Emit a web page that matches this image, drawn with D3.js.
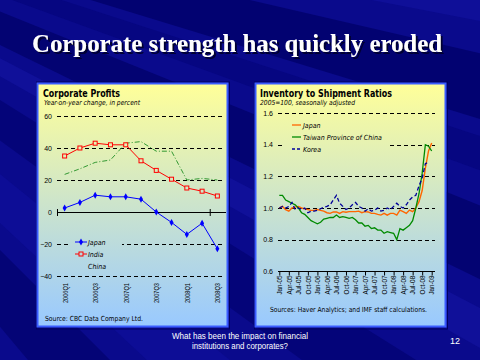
<!DOCTYPE html>
<html><head><meta charset="utf-8">
<script src="https://cdn.jsdelivr.net/npm/d3@7"></script>
<style>html,body{margin:0;padding:0;background:#0a0a8c;} svg{display:block}</style>
</head><body><svg id="c" width="480" height="360"></svg>
<script>
// ---- Left chart data: Corporate Profits ----
const quarters = ["2006Q1","2006Q2","2006Q3","2006Q4","2007Q1","2007Q2","2007Q3","2007Q4","2008Q1","2008Q2","2008Q3"];
const quarterTicks = ["2006Q1","2006Q3","2007Q1","2007Q3","2008Q1","2008Q3"];
const japanProfits = [2.5, 6, 10.5, 9.5, 9.5, 8, 0, -6.5, -14, -7, -23];
const indiaProfits = [35, 40, 43, 42, 42, 32, 26, 20.5, 15, 13, 10];
const chinaProfits = [23.5, 27, 31, 32.5, 43, 44, 38, 38, 20, 21, 20];
const profitTicks = [60, 40, 20, 0, -20, -40];
const profitSeries = ["Japan", "India", "China"];

// ---- Right chart data: Inventory to Shipment Ratios ----
const months = ["Jan-05","Feb-05","Mar-05","Apr-05","May-05","Jun-05","Jul-05","Aug-05","Sep-05","Oct-05","Nov-05","Dec-05",
"Jan-06","Feb-06","Mar-06","Apr-06","May-06","Jun-06","Jul-06","Aug-06","Sep-06","Oct-06","Nov-06","Dec-06",
"Jan-07","Feb-07","Mar-07","Apr-07","May-07","Jun-07","Jul-07","Aug-07","Sep-07","Oct-07","Nov-07","Dec-07",
"Jan-08","Feb-08","Mar-08","Apr-08","May-08","Jun-08","Jul-08","Aug-08","Sep-08","Oct-08","Nov-08","Dec-08","Jan-09"];
const monthTicks = ["Jan-05","Apr-05","Jul-05","Oct-05","Jan-06","Apr-06","Jul-06","Oct-06","Jan-07","Apr-07","Jul-07","Oct-07","Jan-08","Apr-08","Jul-08","Oct-08","Jan-09"];
const japanRatio = [1.00,1.01,0.99,0.98,1.00,1.005,1.01,1.00,0.995,0.99,0.985,0.985,
0.99,0.985,0.98,0.97,0.966,0.975,0.975,0.966,0.977,0.973,0.977,0.977,
0.977,0.98,0.97,0.977,0.975,0.966,0.966,0.96,0.955,0.966,0.955,0.966,
0.966,0.955,0.987,0.977,0.966,0.987,0.977,1.00,1.04,1.11,1.25,1.36,1.41];
const taiwanRatio = [1.08,1.08,1.05,1.04,1.03,1.02,1.00,0.97,0.96,0.94,0.92,0.91,
0.90,0.91,0.93,0.935,0.94,0.94,0.955,0.94,0.945,0.94,0.935,0.94,
0.925,0.905,0.905,0.885,0.89,0.87,0.875,0.86,0.86,0.84,0.85,0.845,
0.84,0.80,0.87,0.86,0.875,0.89,0.92,1.00,1.09,1.22,1.40,1.39,1.36];
const koreaRatio = [1.00,1.01,1.00,1.01,1.035,0.99,1.00,0.99,1.00,0.97,0.98,0.98,
0.985,0.995,1.005,1.01,1.02,1.05,1.08,1.03,1.01,0.99,1.00,1.02,
1.035,1.01,1.00,0.98,0.995,0.98,0.985,1.00,0.98,0.985,1.00,0.99,
1.01,1.03,1.01,1.00,1.02,1.05,1.07,1.08,1.14,1.19,1.28,1.29];
const ratioTicks = [1.6, 1.4, 1.2, 1.0, 0.8, 0.6];
const ratioSeries = ["Japan", "Taiwan Province of China", "Korea"];

const svg = d3.select("#c");
const defs = svg.append("defs");
const grad = defs.append("linearGradient").attr("id","pg").attr("gradientUnits","userSpaceOnUse")
  .attr("x1",0).attr("y1",84).attr("x2",0).attr("y2",326);
grad.append("stop").attr("offset",0).attr("stop-color","#ffff99");
grad.append("stop").attr("offset",1).attr("stop-color","#99c9ff");
const shadow = defs.append("filter").attr("id","sh").attr("x","-5%").attr("y","-20%").attr("width","110%").attr("height","150%");
shadow.append("feDropShadow").attr("dx",2).attr("dy",2).attr("stdDeviation",0.3).attr("flood-color","#000033").attr("flood-opacity",1);

// ---- background ----
svg.append("rect").attr("width",480).attr("height",360).attr("fill","#0a0a8c");
const fx = -400, fy = -150, R = 2000;
const wedges = [[8,11,"#1212a0",0.6],[13,17,"#00006a",0.8],[18,20,"#04047c",0.7],[22,26,"#000066",0.7],
  [27.5,29.5,"#1616a6",0.5],[32,36,"#00006c",0.6],[39,43,"#1010a0",0.5],[45,50,"#000068",0.6]];
wedges.forEach(w => {
  const a1 = w[0]*Math.PI/180, a2 = w[1]*Math.PI/180;
  svg.append("path")
    .attr("d", `M${fx},${fy}L${fx+R*Math.cos(a1)},${fy+R*Math.sin(a1)}L${fx+R*Math.cos(a2)},${fy+R*Math.sin(a2)}Z`)
    .attr("fill", w[2]).attr("opacity", w[3]);
});

// ---- main title ----
svg.append("text").attr("x",32).attr("y",52).text("Corporate strength has quickly eroded")
  .attr("font-family","'Liberation Serif','Times New Roman',serif").attr("font-weight","bold")
  .attr("font-size",26).attr("fill","#ffffff").attr("textLength",410).attr("lengthAdjust","spacingAndGlyphs")
  .attr("filter","url(#sh)");

// ---- panels ----
const sans = "'DejaVu Sans Condensed','DejaVu Sans',Verdana,sans-serif";
const arial = "'Liberation Sans',Arial,sans-serif";
function panel(x){
  svg.append("rect").attr("x",x-1).attr("y",82).attr("width",193).attr("height",247).attr("fill","none")
    .attr("stroke","#000060").attr("stroke-width",1);
  svg.append("rect").attr("x",x).attr("y",83.5).attr("width",190).attr("height",243)
    .attr("fill","url(#pg)").attr("stroke","#3a5cff").attr("stroke-width",2);
}
panel(37.5);
panel(255.5);

// =========== LEFT CHART ===========
const L = svg.append("g");
L.append("text").attr("x",43).attr("y",96.5).text("Corporate Profits").attr("font-family",sans)
  .attr("font-weight","bold").attr("font-size",10).attr("textLength",77).attr("lengthAdjust","spacingAndGlyphs");
L.append("text").attr("x",44).attr("y",104.5).text("Year-on-year change, in percent").attr("font-family",sans)
  .attr("font-style","italic").attr("font-size",7).attr("textLength",96).attr("lengthAdjust","spacingAndGlyphs");

const xL = d3.scalePoint().domain(quarters).range([57,225]).padding(0.5);
const yL = d3.scaleLinear().domain([-40,60]).range([276,116]);

L.selectAll(".gl").data(profitTicks.filter(v=>v!==0)).enter().append("line")
  .attr("x1",57).attr("x2",225).attr("y1",d=>yL(d)+0.5).attr("y2",d=>yL(d)+0.5)
  .attr("stroke","#000").attr("stroke-width",1).attr("stroke-dasharray","4,3");
const yAxL = L.append("g").attr("transform","translate(52,0)")
  .call(d3.axisLeft(yL).tickValues(profitTicks).tickSize(0).tickPadding(0).tickFormat(d3.format("d")));
yAxL.select(".domain").remove();
yAxL.selectAll("text").attr("font-family",arial).attr("font-size",7).attr("fill","#000");
L.append("line").attr("x1",57).attr("x2",226).attr("y1",yL(0)+0.5).attr("y2",yL(0)+0.5).attr("stroke","#000").attr("stroke-width",1);
const stepL = xL.step();
[0,10].forEach(k => {
  L.append("line").attr("x1",57+k*stepL+0.5).attr("x2",57+k*stepL+0.5).attr("y1",yL(0)-3).attr("y2",yL(0)+4)
   .attr("stroke","#000").attr("stroke-width",1);
});
const xAxL = L.append("g").attr("transform","translate(0,283)")
  .call(d3.axisBottom(xL).tickValues(quarterTicks).tickSize(0).tickPadding(0));
xAxL.select(".domain").remove();
xAxL.selectAll("text").attr("font-family",arial).attr("font-size",7).attr("fill","#000")
  .attr("text-anchor","end").attr("y",0).attr("dy","0.35em").attr("transform","rotate(-90)")
  .attr("textLength",20).attr("lengthAdjust","spacingAndGlyphs");

L.append("rect").attr("x",68).attr("y",236).attr("width",54).attr("height",36).attr("fill","url(#pg)");

const lineL = d3.line().x((d,i)=>xL(quarters[i])).y(d=>yL(d));
L.append("path").attr("d",lineL(chinaProfits)).attr("fill","none").attr("stroke","#339933")
  .attr("stroke-width",1).attr("stroke-dasharray","5,2,1,2");
L.append("path").attr("d",lineL(indiaProfits)).attr("fill","none").attr("stroke","#ff0000").attr("stroke-width",1);
L.append("path").attr("d",lineL(japanProfits)).attr("fill","none").attr("stroke","#0000ff").attr("stroke-width",1);
L.selectAll(".mi").data(indiaProfits).enter().append("rect")
  .attr("x",(d,i)=>xL(quarters[i])-2).attr("y",d=>yL(d)-2).attr("width",4).attr("height",4)
  .attr("fill","url(#pg)").attr("stroke","#ff0000").attr("stroke-width",1);
const diamond = d3.symbol().type(d3.symbolDiamond).size(14);
L.selectAll(".mj").data(japanProfits).enter().append("path").attr("d",diamond)
  .attr("transform",(d,i)=>`translate(${xL(quarters[i])},${yL(d)})`).attr("fill","#0000ff");

const legL = L.append("g");
[242, 254, 266].forEach((yy,i) => {
  legL.append("text").attr("x",88).attr("y",yy+2.7).text(profitSeries[i]).attr("font-family",sans)
    .attr("font-style","italic").attr("font-size",7);
});
legL.append("line").attr("x1",75).attr("x2",87).attr("y1",242).attr("y2",242).attr("stroke","#0000ff");
legL.append("path").attr("d",diamond).attr("transform","translate(81,242)").attr("fill","#0000ff");
legL.append("line").attr("x1",75).attr("x2",87).attr("y1",254).attr("y2",254).attr("stroke","#ff0000");
legL.append("rect").attr("x",79).attr("y",252).attr("width",4).attr("height",4).attr("fill","url(#pg)").attr("stroke","#ff0000");

L.append("text").attr("x",45).attr("y",320.5).text("Source: CBC Data Company Ltd.").attr("font-family",sans)
  .attr("font-size",7).attr("textLength",98).attr("lengthAdjust","spacingAndGlyphs");

// =========== RIGHT CHART ===========
const Rg = svg.append("g");
Rg.append("text").attr("x",260).attr("y",96.5).text("Inventory to Shipment Ratios").attr("font-family",sans)
  .attr("font-weight","bold").attr("font-size",10).attr("textLength",132).attr("lengthAdjust","spacingAndGlyphs");
Rg.append("text").attr("x",260).attr("y",105).text("2005=100, seasonally adjusted").attr("font-family",sans)
  .attr("font-style","italic").attr("font-size",7).attr("textLength",95).attr("lengthAdjust","spacingAndGlyphs");

const xR = d3.scalePoint().domain(months).range([279.3,431.7]);
const yR = d3.scaleLinear().domain([0.6,1.6]).range([271.3,113]);

Rg.selectAll(".gl").data(ratioTicks.filter(v=>v>0.7)).enter().append("line")
  .attr("x1",278).attr("x2",435).attr("y1",d=>Math.round(yR(d))+0.5).attr("y2",d=>Math.round(yR(d))+0.5)
  .attr("stroke","#000").attr("stroke-width",1).attr("stroke-dasharray","4,3");
const yAxR = Rg.append("g").attr("transform","translate(273,0)")
  .call(d3.axisLeft(yR).tickValues(ratioTicks).tickSize(0).tickPadding(0).tickFormat(d3.format(".1f")));
yAxR.select(".domain").remove();
yAxR.selectAll("text").attr("font-family",arial).attr("font-size",7).attr("fill","#000");

const xAxR = Rg.append("g").attr("transform",`translate(0,${Math.round(yR(0.6))+0.5})`)
  .call(d3.axisBottom(xR).tickValues(monthTicks).tickSize(4).tickSizeOuter(0).tickPadding(0));
xAxR.select(".domain").remove();
xAxR.selectAll("line").attr("stroke","#000");
xAxR.selectAll("text").attr("font-family",arial).attr("font-size",6.5).attr("fill","#000")
  .attr("text-anchor","end").attr("y",0).attr("dy","0.35em").attr("transform","translate(0,4) rotate(-90)")
  .attr("textLength",19).attr("lengthAdjust","spacingAndGlyphs");
Rg.append("line").attr("x1",278).attr("x2",435).attr("y1",Math.round(yR(0.6))+0.5).attr("y2",Math.round(yR(0.6))+0.5)
  .attr("stroke","#000").attr("stroke-width",1);

Rg.append("rect").attr("x",284).attr("y",117).attr("width",103).attr("height",38).attr("fill","url(#pg)");

const lineR = d3.line().x((d,i)=>xR(months[i])).y(d=>yR(d));
Rg.append("path").attr("d",lineR(japanRatio)).attr("fill","none").attr("stroke","#ff6600").attr("stroke-width",1.4);
Rg.append("path").attr("d",lineR(taiwanRatio)).attr("fill","none").attr("stroke","#008a00").attr("stroke-width",1.3);
Rg.append("path").attr("d",lineR(koreaRatio)).attr("fill","none").attr("stroke","#000099").attr("stroke-width",1.3)
  .attr("stroke-dasharray","4,2.5");

const legR = Rg.append("g");
const legColors = ["#ff6600","#008a00","#000099"];
[125, 137, 149].forEach((yy,i) => {
  legR.append("line").attr("x1",292).attr("x2",301).attr("y1",yy).attr("y2",yy).attr("stroke",legColors[i])
    .attr("stroke-width",1.3).attr("stroke-dasharray", i===2 ? "3,2" : null);
  legR.append("text").attr("x",303).attr("y",yy+2.5).text(ratioSeries[i]).attr("font-family",sans)
    .attr("font-style","italic").attr("font-size",7);
});

Rg.append("text").attr("x",270).attr("y",312).text("Sources: Haver Analytics; and IMF staff calculations.")
  .attr("font-family",sans).attr("font-size",7).attr("textLength",157).attr("lengthAdjust","spacingAndGlyphs");

// ---- footer ----
svg.append("text").attr("x",240).attr("y",339).attr("text-anchor","middle").text("What has been the impact on financial")
  .attr("font-family",arial).attr("font-size",9).attr("fill","#fff").attr("textLength",136).attr("lengthAdjust","spacingAndGlyphs");
svg.append("text").attr("x",240).attr("y",349).attr("text-anchor","middle").text("institutions and corporates?")
  .attr("font-family",arial).attr("font-size",9).attr("fill","#fff").attr("textLength",96).attr("lengthAdjust","spacingAndGlyphs");
svg.append("text").attr("x",455).attr("y",344).attr("text-anchor","middle").text("12")
  .attr("font-family",arial).attr("font-size",9).attr("fill","#fff");
</script></body></html>
